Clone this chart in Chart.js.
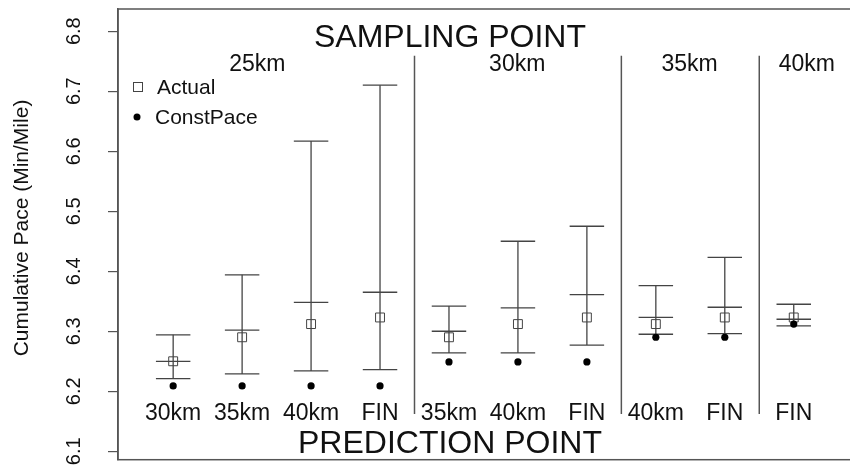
<!DOCTYPE html>
<html>
<head>
<meta charset="utf-8">
<script src="https://cdn.jsdelivr.net/npm/chart.js@4.4.0/dist/chart.umd.min.js"></script>
<style>
  html, body { margin: 0; padding: 0; background: #fff; overflow: hidden; }
  canvas { display: block; }
</style>
</head>
<body>
<canvas id="paceChart" width="870" height="467"></canvas>
<script>
// x positions of the ten prediction columns
const positions = [1, 2, 3, 4, 5, 6, 7, 8, 9, 10];
const predictionLabels = ['30km', '35km', '40km', 'FIN', '35km', '40km', 'FIN', '40km', 'FIN', 'FIN'];
const samplingLabels = ['25km', '30km', '35km', '40km'];
const samplingLabelPos = [2.22, 5.99, 8.49, 10.19];
const separatorPos = [4.5, 7.5, 9.5];
const separatorRange = [6.162, 6.759];
const yTicks = [6.1, 6.2, 6.3, 6.4, 6.5, 6.6, 6.7, 6.8];

const actual    = [6.250, 6.290, 6.312, 6.323, 6.290, 6.312, 6.323, 6.312, 6.323, 6.323];
const upper     = [6.294, 6.394, 6.617, 6.710, 6.342, 6.450, 6.475, 6.376, 6.423, 6.345];
const middle    = [6.250, 6.302, 6.348, 6.365, 6.300, 6.339, 6.361, 6.323, 6.340, 6.320];
const lower     = [6.221, 6.229, 6.234, 6.236, 6.264, 6.264, 6.277, 6.295, 6.296, 6.309];
const constPace = [6.209, 6.209, 6.209, 6.209, 6.249, 6.249, 6.249, 6.290, 6.290, 6.312];

const capHalf = 0.25;
const lineCol = '#444';
const FONT = '"Liberation Sans", Arial, Helvetica, sans-serif';

// whiskers: one segment per column, broken by null points
const whiskers = [];
positions.forEach((x, i) => {
  whiskers.push({ x: x, y: lower[i] }, { x: x, y: upper[i] }, { x: x, y: null });
});
const caps = [];
positions.forEach((x, i) => {
  [upper[i], middle[i], lower[i]].forEach(v => {
    caps.push({ x: x - capHalf, y: v }, { x: x + capHalf, y: v }, { x: x, y: null });
  });
});
const separators = [];
separatorPos.forEach(x => {
  separators.push({ x: x, y: separatorRange[0] }, { x: x, y: separatorRange[1] }, { x: x, y: null });
});

const textPlugin = {
  id: 'annotations',
  afterDraw(chart) {
    const ctx = chart.ctx;
    const xs = chart.scales.x;
    const area = chart.chartArea;
    ctx.save();
    // frame
    ctx.strokeStyle = '#555';
    ctx.lineWidth = 1.5;
    ctx.strokeRect(area.left, area.top, area.right - area.left, area.bottom - area.top);

    ctx.fillStyle = '#111';
    ctx.textAlign = 'center';
    ctx.textBaseline = 'alphabetic';
    ctx.font = '32px ' + FONT;
    ctx.fillText('SAMPLING POINT', 450, 47);
    ctx.fillText('PREDICTION POINT', 450, 453);

    ctx.font = '23px ' + FONT;
    samplingLabels.forEach((t, i) => {
      ctx.fillText(t, xs.getPixelForValue(samplingLabelPos[i]), 71);
    });
    predictionLabels.forEach((t, i) => {
      ctx.fillText(t, xs.getPixelForValue(positions[i]), 420);
    });

    // legend
    ctx.textAlign = 'left';
    ctx.font = '21px ' + FONT;
    ctx.strokeStyle = lineCol;
    ctx.lineWidth = 1;
    ctx.strokeRect(133.5, 82.5, 9, 9);
    ctx.fillText('Actual', 157, 94);
    ctx.beginPath();
    ctx.arc(137, 117, 3.5, 0, Math.PI * 2);
    ctx.fillStyle = '#000';
    ctx.fill();
    ctx.fillStyle = '#111';
    ctx.fillText('ConstPace', 155, 124);

    // y title
    ctx.translate(22, 228);
    ctx.rotate(-Math.PI / 2);
    ctx.textAlign = 'center';
    ctx.textBaseline = 'middle';
    ctx.fillText('Cumulative Pace (Min/Mile)', 0, 0);
    ctx.restore();
  }
};

new Chart(document.getElementById('paceChart'), {
  type: 'scatter',
  data: {
    datasets: [
      {
        label: 'ConstPace',
        data: positions.map((x, i) => ({ x: x, y: constPace[i] })),
        pointStyle: 'circle',
        pointRadius: 3.6,
        backgroundColor: '#000',
        borderColor: '#000',
        borderWidth: 0,
        order: 0
      },
      {
        label: 'Actual',
        data: positions.map((x, i) => ({ x: x, y: actual[i] })),
        pointStyle: 'rect',
        pointRadius: 6.3,
        backgroundColor: 'rgba(0,0,0,0)',
        borderColor: lineCol,
        borderWidth: 1,
        order: 1
      },
      {
        label: 'caps',
        data: caps,
        showLine: true,
        pointRadius: 0,
        borderColor: lineCol,
        borderWidth: 1.3,
        order: 2
      },
      {
        label: 'whiskers',
        data: whiskers,
        showLine: true,
        pointRadius: 0,
        borderColor: lineCol,
        borderWidth: 1.3,
        order: 3
      },
      {
        label: 'separators',
        data: separators,
        showLine: true,
        pointRadius: 0,
        borderColor: '#555',
        borderWidth: 1.5,
        order: 4
      }
    ]
  },
  options: {
    responsive: false,
    animation: false,
    devicePixelRatio: 1,
    layout: { padding: { top: 9, bottom: 6, left: 0, right: 0 } },
    plugins: {
      legend: { display: false },
      tooltip: { enabled: false }
    },
    scales: {
      x: {
        type: 'linear',
        display: false,
        min: 0.2,
        max: 11
      },
      y: {
        type: 'linear',
        min: 6.086,
        max: 6.837,
        afterBuildTicks(scale) {
          scale.ticks = yTicks.map(v => ({ value: v }));
        },
        afterFit(scale) {
          scale.width = 118;
          scale.paddingTop = 0;
          scale.paddingBottom = 0;
        },
        border: { display: true, color: '#555', width: 1.5 },
        grid: { drawOnChartArea: false, drawTicks: true, tickLength: 10, color: '#555', lineWidth: 1.2 },
        ticks: {
          minRotation: 90,
          maxRotation: 90,
          crossAlign: 'center',
          padding: 20,
          color: '#111',
          font: { family: FONT, size: 20 },
          callback: v => v.toFixed(1)
        }
      }
    }
  },
  plugins: [textPlugin]
});
</script>
</body>
</html>
